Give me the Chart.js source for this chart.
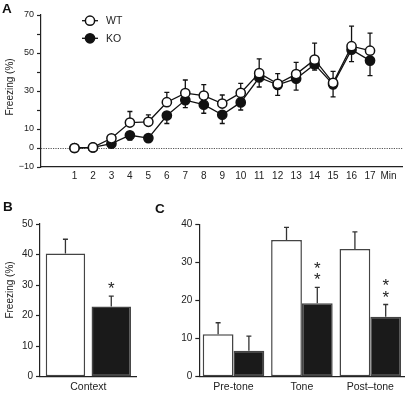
<!DOCTYPE html>
<html><head><meta charset="utf-8">
<script src="https://cdn.jsdelivr.net/npm/chart.js@4.4.1/dist/chart.umd.min.js"></script>
<style>
html,body{margin:0;padding:0;background:#fff;width:409px;height:393px;overflow:hidden;}
canvas{position:absolute;}
.lbl{position:absolute;font-family:"Liberation Sans",Arial,sans-serif;font-weight:bold;font-size:13.5px;line-height:1;color:#111;z-index:5;}
</style></head><body>
<canvas id="a" width="409" height="192" style="left:0;top:0"></canvas>
<canvas id="b" width="150" height="198" style="left:0;top:195px"></canvas>
<canvas id="c" width="259" height="198" style="left:150px;top:195px"></canvas>
<div class="lbl" style="left:2px;top:2px">A</div>
<div class="lbl" style="left:3px;top:200px">B</div>
<div class="lbl" style="left:155px;top:202px">C</div>
<script>
// ---- Panel A data ----
const minutes = [1,2,3,4,5,6,7,8,9,10,11,12,13,14,15,16,17];
const wtMean = [0, 0.3, 5.1, 13.4, 13.8, 24.1, 28.9, 27.6, 23.4, 29, 39.4, 33.8, 38.9, 46.5, 34.3, 53.6, 51.2];
const wtErr  = [0, 0, 1, 5.8, 3.6, 5.2, 6.9, 5.8, 4.5, 5, 7.5, 5.3, 6.2, 8.7, 6, 10.5, 9.3];
const koMean = [0, 0.3, 2.3, 6.7, 5.2, 17.1, 25.2, 22.8, 17.5, 24, 37.1, 33.2, 36.5, 44, 33.5, 51.7, 46];
const koErr  = [0, 0, 1, 2.5, 1.5, 4.2, 4, 4.5, 4.6, 4, 5, 5.5, 6, 3, 6.6, 6.2, 7.9];
const yLabelsA = [-10, 0, 10, 30, 50, 70];
const xEndLabelA = 'Min';
const seriesNames = ['WT', 'KO'];
const yTitle = 'Freezing (%)';

// ---- Panel B data ----
const contextLabels = ['Context'];
const ctxWT = [40.3];
const ctxWTErr = [4.7];
const ctxKO = [23];
const ctxKOErr = [3.4];
const ctxKOSig = ['*'];

// ---- Panel C data ----
const toneLabels = ['Pre-tone', 'Tone', 'Post\u2013tone'];
const toneWT = [11.2, 36, 33.6];
const toneWTErr = [3, 3.3, 4.5];
const toneKO = [6.8, 19.3, 15.8];
const toneKOErr = [3.9, 4.2, 3.2];
const toneKOSig = ['', '**', '**'];

const FONT = '"Liberation Sans", Arial, Helvetica, sans-serif';
Chart.defaults.font.family = FONT;
Chart.defaults.color = '#222';
const AX = '#222';

const zeroLine = {
  id: 'zeroLine',
  beforeDatasetsDraw(chart) {
    const {ctx, chartArea, scales} = chart;
    const y = Math.round(scales.y.getPixelForValue(0)) + 0.5;
    ctx.save();
    ctx.strokeStyle = '#555';
    ctx.lineWidth = 1;
    ctx.setLineDash([1.2, 1.2]);
    ctx.beginPath();
    ctx.moveTo(chartArea.left, y);
    ctx.lineTo(chartArea.right, y);
    ctx.stroke();
    ctx.restore();
  }
};

function drawErr(chart, when) {
  const {ctx, scales} = chart;
  chart.data.datasets.forEach((ds, i) => {
    if (!ds.err || ds.errWhen !== when) return;
    const meta = chart.getDatasetMeta(i);
    ctx.save();
    ctx.strokeStyle = ds.errColor || '#111';
    ctx.lineWidth = 1.3;
    meta.data.forEach((el, j) => {
      const e = ds.err[j];
      if (!e) return;
      const v = (typeof ds.data[j] === 'object') ? ds.data[j].y : ds.data[j];
      const y0 = scales.y.getPixelForValue(v);
      const y1 = scales.y.getPixelForValue(v + ds.errDir * e);
      ctx.beginPath();
      ctx.moveTo(el.x, y0);
      ctx.lineTo(el.x, y1);
      ctx.moveTo(el.x - 2.5, y1);
      ctx.lineTo(el.x + 2.5, y1);
      ctx.stroke();
    });
    ctx.restore();
  });
}
const errorBars = {
  id: 'errorBars',
  beforeDatasetsDraw(chart) { drawErr(chart, 'before'); },
  afterDatasetsDraw(chart) { drawErr(chart, 'after'); }
};

const stars = {
  id: 'stars',
  afterDatasetsDraw(chart) {
    const {ctx, scales} = chart;
    chart.data.datasets.forEach((ds, i) => {
      if (!ds.sig) return;
      const meta = chart.getDatasetMeta(i);
      ctx.save();
      ctx.fillStyle = '#222';
      ctx.font = '17px ' + FONT;
      ctx.textAlign = 'center';
      ctx.textBaseline = 'alphabetic';
      const m = ctx.measureText('*');
      const half = (m.actualBoundingBoxAscent - m.actualBoundingBoxDescent) / 2;
      meta.data.forEach((el, j) => {
        const s = ds.sig[j];
        if (!s) return;
        const top = scales.y.getPixelForValue(ds.data[j] + (ds.err ? ds.err[j] : 0));
        for (let k = 0; k < s.length; k++) {
          const cy = top - 11 - k * 11.5;
          ctx.fillText('*', el.x, cy + half);
        }
      });
      ctx.restore();
    });
  }
};

function yTitlePlugin(x, y) {
  return {
    id: 'yTitle',
    afterDraw(chart) {
      const ctx = chart.ctx;
      ctx.save();
      ctx.translate(x, y);
      ctx.rotate(-Math.PI / 2);
      ctx.font = '10px ' + FONT;
      ctx.fillStyle = '#222';
      ctx.textAlign = 'center';
      ctx.textBaseline = 'middle';
      ctx.fillText(yTitle, 0, 0);
      ctx.restore();
    }
  };
}

const legendA = {
  id: 'legendA',
  afterDraw(chart) {
    const ctx = chart.ctx;
    const ys = [20.7, 38.3];
    chart.data.datasets.forEach((ds, i) => {
      const y = ys[i];
      ctx.save();
      ctx.strokeStyle = '#111';
      ctx.lineWidth = 1.3;
      ctx.beginPath();
      ctx.moveTo(82, y); ctx.lineTo(98, y); ctx.stroke();
      ctx.beginPath();
      ctx.arc(90, y, 4.6, 0, Math.PI * 2);
      ctx.fillStyle = ds.pointBackgroundColor;
      ctx.fill();
      ctx.lineWidth = 1.5;
      ctx.stroke();
      ctx.fillStyle = '#222';
      ctx.font = '10.5px ' + FONT;
      ctx.textAlign = 'left';
      ctx.textBaseline = 'middle';
      ctx.fillText(ds.label, 106, y + 0.5);
      ctx.restore();
    });
  }
};

// ---------- Chart A ----------
new Chart(document.getElementById('a'), {
  type: 'line',
  data: {
    datasets: [
      { label: seriesNames[0], data: minutes.map((m, i) => ({x: m, y: wtMean[i]})),
        borderColor: '#111', borderWidth: 1.3, pointRadius: 4.6, pointHoverRadius: 4.6,
        pointBorderWidth: 1.5, pointBackgroundColor: '#fff', pointBorderColor: '#111',
        err: wtErr, errDir: 1, errWhen: 'before' },
      { label: seriesNames[1], data: minutes.map((m, i) => ({x: m, y: koMean[i]})),
        borderColor: '#111', borderWidth: 1.3, pointRadius: 4.6, pointHoverRadius: 4.6,
        pointBorderWidth: 1.5, pointBackgroundColor: '#111', pointBorderColor: '#111',
        err: koErr, errDir: -1, errWhen: 'before' }
    ]
  },
  options: {
    responsive: false, animation: false, events: [],
    layout: {padding: {top: 15, right: 0, left: 0, bottom: 0}},
    plugins: {legend: {display: false}, tooltip: {enabled: false}},
    scales: {
      x: {
        type: 'linear', min: -0.813, max: 18.78,
        afterBuildTicks: s => { s.ticks = minutes.concat([18]).map(v => ({value: v})); },
        ticks: {callback: v => v === 18 ? xEndLabelA : String(v), font: {size: 10}, padding: 3,
                maxRotation: 0, autoSkip: false},
        grid: {display: false, drawTicks: false},
        border: {color: AX, width: 1.2},
        afterFit: s => { s.height = 25; }
      },
      y: {
        min: -10, max: 70,
        ticks: {stepSize: 10, autoSkip: false, font: {size: 9}, padding: 3,
                callback: v => yLabelsA.includes(v) ? (v < 0 ? '\u2212' + Math.abs(v) : String(v)) : ''},
        grid: {drawOnChartArea: false, tickLength: 4, color: AX, tickWidth: 1.2},
        border: {color: AX, width: 1.2},
        afterFit: s => { s.width = 41; }
      }
    }
  },
  plugins: [zeroLine, errorBars, legendA, yTitlePlugin(10, 87)]
});

function barOpts(padding, yMax, yWidth, xHeight, cat, bar) {
  return {
    responsive: false, animation: false, events: [],
    layout: {padding: padding},
    plugins: {legend: {display: false}, tooltip: {enabled: false}},
    datasets: {bar: {categoryPercentage: cat, barPercentage: bar}},
    scales: {
      x: {
        grid: {display: false, drawTicks: false},
        border: {color: AX, width: 1.2},
        ticks: {font: {size: 10.5}, padding: 4.5, maxRotation: 0, autoSkip: false},
        afterFit: s => { s.height = xHeight; }
      },
      y: {
        min: 0, max: yMax,
        ticks: {stepSize: 10, font: {size: 10}, padding: 3},
        grid: {drawOnChartArea: false, tickLength: 4, color: AX, tickWidth: 1.2},
        border: {color: AX, width: 1.2},
        afterFit: s => { s.width = yWidth; }
      }
    }
  };
}

// ---------- Chart B ----------
new Chart(document.getElementById('b'), {
  type: 'bar',
  data: {
    labels: contextLabels,
    datasets: [
      {label: seriesNames[0], data: ctxWT, backgroundColor: '#fff', borderColor: '#444', borderWidth: 1.5,
       borderSkipped: false, err: ctxWTErr, errDir: 1, errWhen: 'after', errColor: '#333'},
      {label: seriesNames[1], data: ctxKO, backgroundColor: '#1a1a1a', borderColor: '#444', borderWidth: 1.5,
       borderSkipped: false, err: ctxKOErr, errDir: 1, errWhen: 'after', errColor: '#333', sig: ctxKOSig}
    ]
  },
  options: barOpts({top: 29, right: 13.3, left: 0, bottom: 0}, 50, 40, 16.3, 0.948, 0.86),
  plugins: [errorBars, stars, yTitlePlugin(10, 95)]
});

// ---------- Chart C ----------
new Chart(document.getElementById('c'), {
  type: 'bar',
  data: {
    labels: toneLabels,
    datasets: [
      {label: seriesNames[0], data: toneWT, backgroundColor: '#fff', borderColor: '#444', borderWidth: 1.5,
       borderSkipped: false, err: toneWTErr, errDir: 1, errWhen: 'after', errColor: '#333'},
      {label: seriesNames[1], data: toneKO, backgroundColor: '#1a1a1a', borderColor: '#444', borderWidth: 1.5,
       borderSkipped: false, err: toneKOErr, errDir: 1, errWhen: 'after', errColor: '#333', sig: toneKOSig}
    ]
  },
  options: barOpts({top: 29.7, right: 4.5, left: 0, bottom: 0}, 40, 49.3, 16.3, 0.9, 1.0),
  plugins: [errorBars, stars]
});
</script>
</body></html>
